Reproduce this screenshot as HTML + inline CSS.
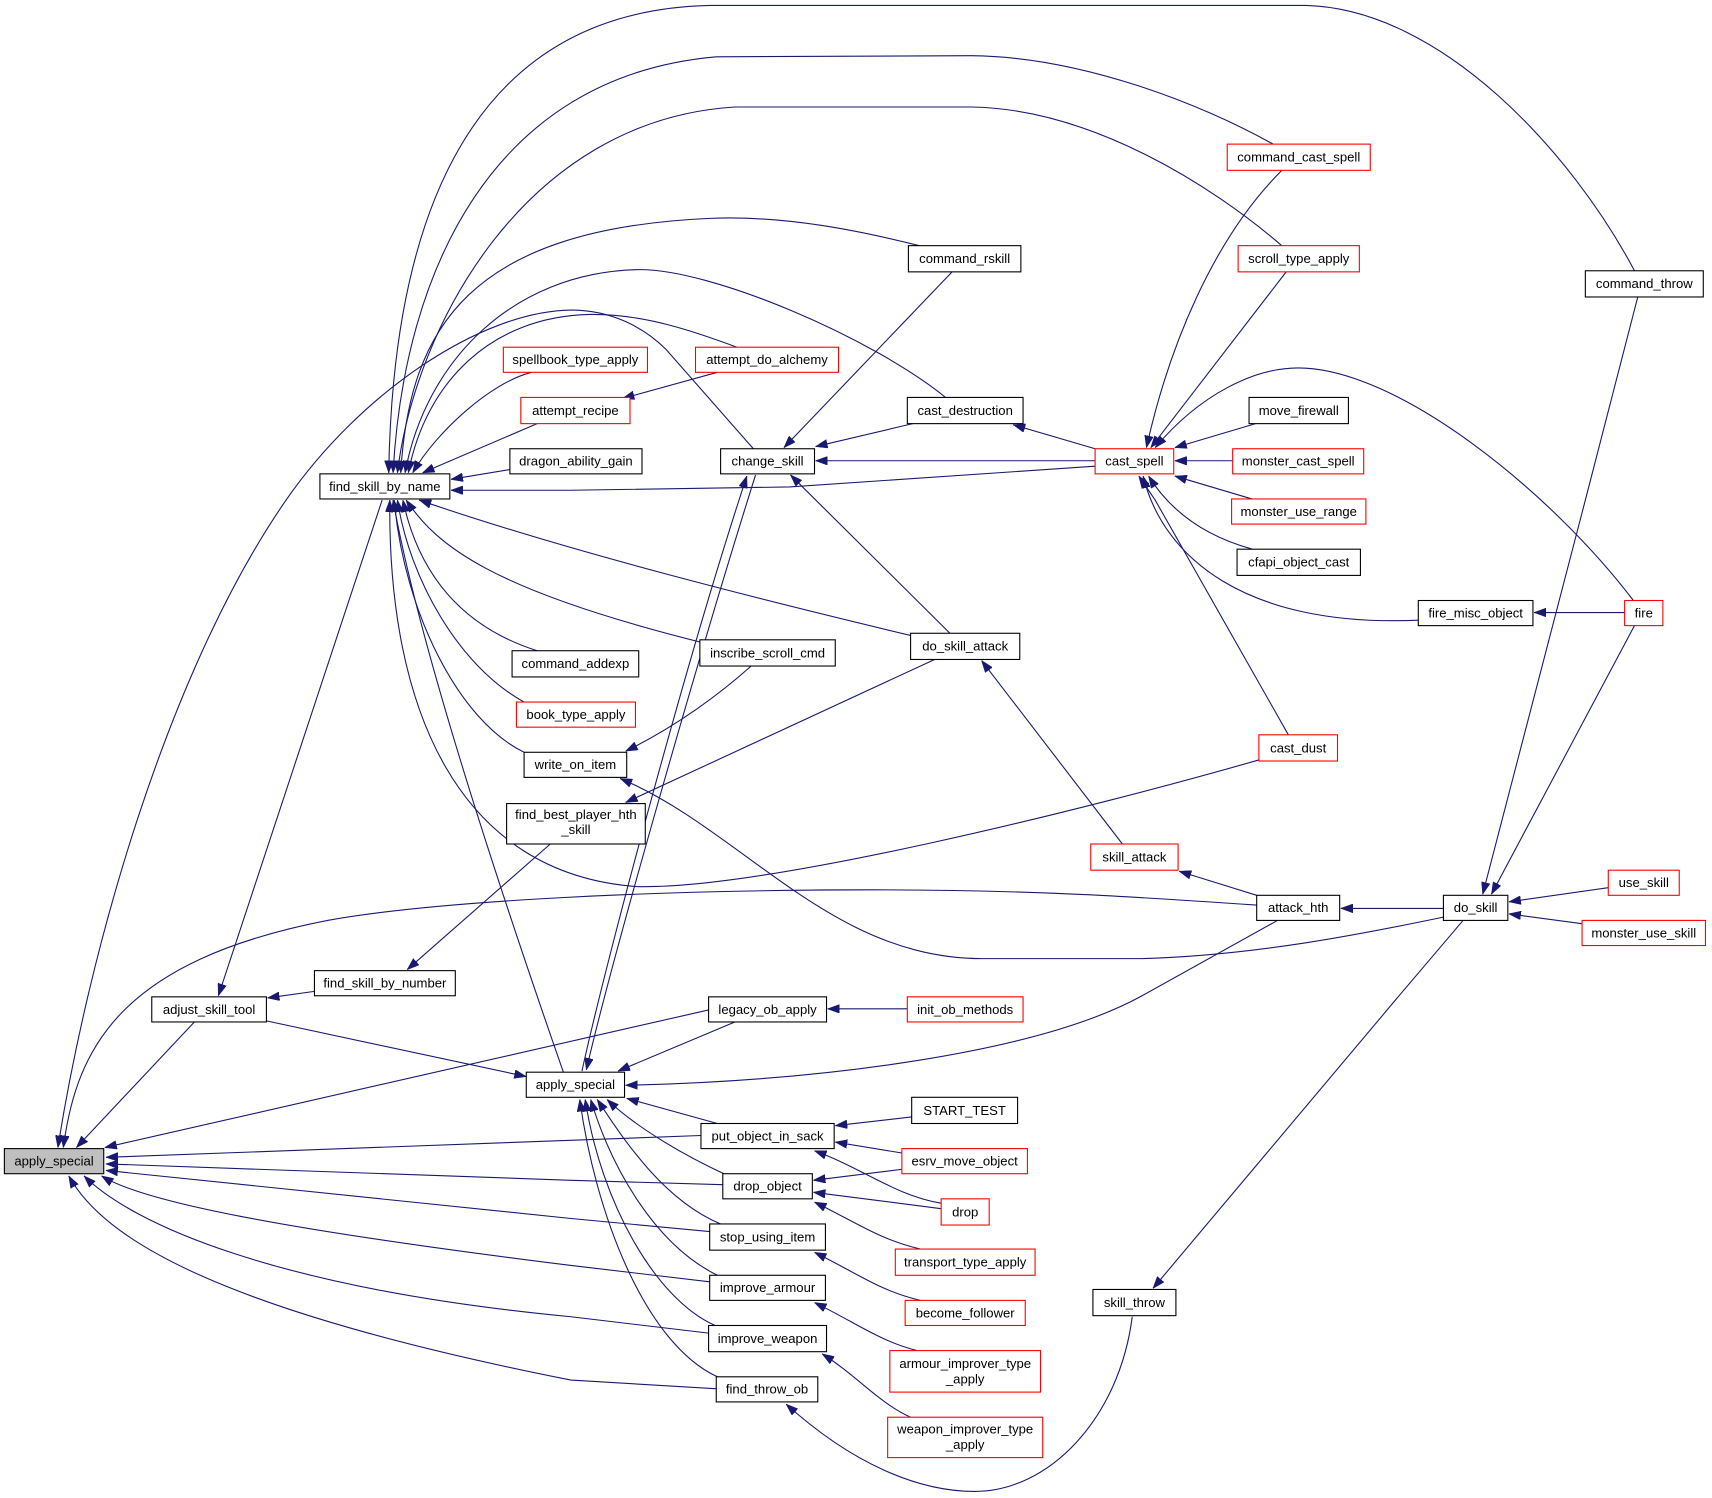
<!DOCTYPE html>
<html>
<head>
<meta charset="utf-8">
<style>
html,body{margin:0;padding:0;background:#fff;}
svg{display:block;}
text{font-family:"Liberation Sans",Arial,sans-serif;font-size:12px;fill:#000;text-anchor:middle;}
.n{fill:#fff;stroke:#000;stroke-width:1;}
.r{fill:#fff;stroke:#ff0000;stroke-width:1;}
.g{fill:#bfbfbf;stroke:#000;stroke-width:1;}
path{fill:none;stroke:#191970;stroke-width:1;marker-start:url(#ah);}
</style>
</head>
<body>
<svg width="1712" height="1498" viewBox="0 0 1568 1372" xmlns="http://www.w3.org/2000/svg">
<defs>
<marker id="ah" viewBox="0 0 11 8" refX="11" refY="4" markerWidth="11" markerHeight="8" markerUnits="userSpaceOnUse" orient="auto-start-reverse">
<polygon points="0,0 11,4 0,8" style="fill:#191970;stroke:#191970;stroke-width:0.5"/>
</marker>
</defs>

<!-- edges into apply_special (left) -->
<path d="M53,1051 C80,880 150,620 262,458 C330,360 440,285 523,284 C560,284 590,300 610,320 L690,411"/>
<path d="M58,1051 C70,960 110,880 300,843 C400,825 600,815 800,815 C950,815 1050,822 1151,829"/>
<path d="M70,1051 L178,936"/>
<path d="M96,1051 L649,925"/>
<path d="M97,1060 L642,1040"/>
<path d="M97,1066 L523,1081 L662,1085"/>
<path d="M97,1072 L523,1116 L650,1128"/>
<path d="M93,1077 C130,1100 250,1125 523,1159 L650,1174"/>
<path d="M77,1077 C120,1120 250,1180 523,1206 L649,1221"/>
<path d="M63,1077 C95,1135 200,1200 523,1264 L657,1272"/>

<!-- edges into apply_special (middle) -->
<path d="M482,986 L244,935"/>
<path d="M566,981 L673,936"/>
<path d="M573,994 C750,990 950,965 1046,912 L1170,843"/>
<path d="M574,1006 L657,1029"/>
<path d="M556,1007 C580,1030 620,1055 663,1075"/>
<path d="M547,1007 C575,1050 610,1100 660,1121"/>
<path d="M541,1007 C560,1070 600,1140 657,1168"/>
<path d="M536,1007 C550,1100 600,1190 655,1214"/>
<path d="M531,1007 C545,1110 590,1230 657,1261"/>
<path d="M537,980 C560,880 640,600 692,435"/>
<path d="M684,436 C630,600 555,880 533,981"/>

<!-- edges into find_skill_by_name top -->
<path d="M356,433 C360,200 430,10 650,5 L1196,5 C1320,8 1440,140 1497,248"/>
<path d="M360,433 C370,250 450,70 656,52 L890,51 C990,52 1100,95 1166,132"/>
<path d="M364,433 C380,300 480,110 673,98 L890,98 C1000,100 1110,170 1174,225"/>
<path d="M367,433 C375,300 430,210 650,200 C720,197 790,212 842,225"/>
<path d="M371,433 C390,330 470,250 583,247 C650,245 800,310 866,364"/>
<path d="M374,433 C390,350 450,290 540,288 C590,287 640,305 675,318"/>
<path d="M378,433 C400,395 450,350 487,341"/>
<path d="M387,433 L492,388"/>
<path d="M413,439 L467,430"/>
<path d="M413,449 L523,449 L723,446 L1003,427"/>

<!-- edges into find_skill_by_name bottom -->
<path d="M360,458 C385,600 470,850 516,982"/>
<path d="M384,458 C520,505 700,550 834,582"/>
<path d="M372,458 C400,500 450,540 641,588"/>
<path d="M369,458 C380,510 410,570 492,596"/>
<path d="M364,458 C375,530 420,610 480,643"/>
<path d="M361,458 C370,560 420,660 480,689"/>
<path d="M357,458 C355,650 420,800 583,812 C700,815 1000,740 1153,696"/>

<!-- misc edges -->
<path d="M200,912 L350,458"/>
<path d="M245,914 L288,908"/>
<path d="M373,888 L504,773"/>
<path d="M573,735 L856,604"/>
<path d="M573,688 C620,665 660,635 688,610"/>
<path d="M568,713 C680,760 760,878 900,878 L1046,878 C1150,875 1250,855 1322,840"/>
<path d="M718,410 L872,249"/>
<path d="M747,409 L836,388"/>
<path d="M747,422 L1003,422"/>
<path d="M724,435 L870,580"/>
<path d="M928,389 L1003,411"/>
<path d="M570,365 L657,341"/>
<path d="M899,605 L1028,773"/>
<path d="M1080,798 L1151,820"/>
<path d="M1228,832 L1322,832"/>
<path d="M1382,826 L1473,813"/>
<path d="M1382,837 L1449,846"/>
<path d="M1358,819 L1452,458 L1500,272"/>
<path d="M1366,819 L1497,573"/>
<path d="M1056,1180 L1278,916 L1340,843"/>
<path d="M720,1286 C780,1340 840,1366 893,1366 C960,1366 1025,1300 1037,1206"/>
<path d="M758,924 L831,924"/>
<path d="M765,1031 L835,1023"/>
<path d="M765,1046 L826,1056"/>
<path d="M745,1081 L826,1071"/>
<path d="M746,1054 C790,1070 820,1095 862,1102"/>
<path d="M745,1092 L862,1107"/>
<path d="M746,1101 C785,1120 805,1135 843,1144"/>
<path d="M746,1147 C785,1166 805,1182 843,1191"/>
<path d="M746,1193 C785,1212 805,1228 840,1237"/>
<path d="M753,1240 C785,1260 805,1285 834,1298"/>

<!-- edges into cast_spell -->
<path d="M1050,410 C1070,320 1110,220 1174,156"/>
<path d="M1054,410 L1178,249"/>
<path d="M1058,410 C1100,360 1150,337 1189,337 C1280,337 1420,450 1496,550"/>
<path d="M1076,410 L1150,388"/>
<path d="M1076,422 L1129,422"/>
<path d="M1076,436 L1150,458"/>
<path d="M1052,436 C1070,465 1100,490 1147,503"/>
<path d="M1047,436 C1065,510 1140,575 1299,568"/>
<path d="M1043,436 L1058,458 L1180,673"/>
<path d="M1405,561 L1488,561"/>

<!-- nodes -->
<rect class="g" x="4" y="1052" width="91" height="23"/><text x="49.5" y="1067.5">apply_special</text>
<rect class="n" x="139" y="913" width="105" height="23"/><text x="191.5" y="928.5">adjust_skill_tool</text>
<rect class="n" x="293" y="434" width="119" height="23"/><text x="352.5" y="449.5">find_skill_by_name</text>
<rect class="n" x="288" y="889" width="129" height="23"/><text x="352.5" y="904.5">find_skill_by_number</text>
<rect class="n" x="482" y="982" width="90" height="23"/><text x="527" y="997.5">apply_special</text>
<rect class="r" x="461" y="318" width="132" height="23"/><text x="527" y="333.5">spellbook_type_apply</text>
<rect class="r" x="477" y="364" width="100" height="24"/><text x="527" y="380">attempt_recipe</text>
<rect class="n" x="467" y="411" width="121" height="23"/><text x="527.5" y="426.5">dragon_ability_gain</text>
<rect class="n" x="469" y="596" width="116" height="24"/><text x="527" y="612">command_addexp</text>
<rect class="r" x="473" y="643" width="109" height="23"/><text x="527.5" y="658.5">book_type_apply</text>
<rect class="n" x="480" y="689" width="94" height="23"/><text x="527" y="704.5">write_on_item</text>
<rect class="n" x="464" y="736" width="127" height="37"/><text x="527.5" y="750">find_best_player_hth</text><text x="527.5" y="764">_skill</text>
<rect class="r" x="637" y="318" width="131" height="23"/><text x="702.5" y="333.5">attempt_do_alchemy</text>
<rect class="n" x="660" y="411" width="86" height="23"/><text x="703" y="426.5">change_skill</text>
<rect class="n" x="641" y="586" width="124" height="24"/><text x="703" y="602">inscribe_scroll_cmd</text>
<rect class="n" x="649" y="913" width="108" height="23"/><text x="703" y="928.5">legacy_ob_apply</text>
<rect class="n" x="642" y="1029" width="122" height="23"/><text x="703" y="1044.5">put_object_in_sack</text>
<rect class="n" x="662" y="1075" width="82" height="23"/><text x="703" y="1090.5">drop_object</text>
<rect class="n" x="650" y="1121" width="106" height="24"/><text x="703" y="1137">stop_using_item</text>
<rect class="n" x="650" y="1168" width="106" height="23"/><text x="703" y="1183.5">improve_armour</text>
<rect class="n" x="649" y="1214" width="108" height="24"/><text x="703" y="1230">improve_weapon</text>
<rect class="n" x="656" y="1261" width="93" height="23"/><text x="702.5" y="1276.5">find_throw_ob</text>
<rect class="n" x="832" y="225" width="103" height="24"/><text x="883.5" y="241">command_rskill</text>
<rect class="n" x="831" y="364" width="106" height="24"/><text x="884" y="380">cast_destruction</text>
<rect class="n" x="834" y="580" width="100" height="24"/><text x="884" y="596">do_skill_attack</text>
<rect class="r" x="831" y="913" width="106" height="23"/><text x="884" y="928.5">init_ob_methods</text>
<rect class="n" x="835" y="1005" width="97" height="24"/><text x="883.5" y="1021">START_TEST</text>
<rect class="r" x="826" y="1052" width="115" height="23"/><text x="883.5" y="1067.5">esrv_move_object</text>
<rect class="r" x="862" y="1098" width="44" height="24"/><text x="884" y="1114">drop</text>
<rect class="r" x="820" y="1144" width="128" height="24"/><text x="884" y="1160">transport_type_apply</text>
<rect class="r" x="829" y="1191" width="110" height="23"/><text x="884" y="1206.5">become_follower</text>
<rect class="r" x="815" y="1237" width="138" height="38"/><text x="884" y="1253">armour_improver_type</text><text x="884" y="1267">_apply</text>
<rect class="r" x="813" y="1298" width="142" height="37"/><text x="884" y="1313">weapon_improver_type</text><text x="884" y="1327">_apply</text>
<rect class="r" x="999" y="773" width="80" height="24"/><text x="1039" y="789">skill_attack</text>
<rect class="n" x="1151" y="820" width="76" height="23"/><text x="1189" y="835.5">attack_hth</text>
<rect class="n" x="1001" y="1181" width="76" height="24"/><text x="1039" y="1197">skill_throw</text>
<rect class="r" x="1003" y="411" width="72" height="23"/><text x="1039" y="426.5">cast_spell</text>
<rect class="r" x="1124" y="132" width="131" height="24"/><text x="1189.5" y="148">command_cast_spell</text>
<rect class="r" x="1134" y="225" width="111" height="24"/><text x="1189.5" y="241">scroll_type_apply</text>
<rect class="n" x="1144" y="364" width="91" height="24"/><text x="1189.5" y="380">move_firewall</text>
<rect class="r" x="1129" y="411" width="120" height="23"/><text x="1189" y="426.5">monster_cast_spell</text>
<rect class="r" x="1128" y="457" width="123" height="23"/><text x="1189.5" y="472.5">monster_use_range</text>
<rect class="n" x="1133" y="503" width="113" height="24"/><text x="1189.5" y="519">cfapi_object_cast</text>
<rect class="r" x="1153" y="673" width="72" height="24"/><text x="1189" y="689">cast_dust</text>
<rect class="n" x="1299" y="550" width="105" height="23"/><text x="1351.5" y="565.5">fire_misc_object</text>
<rect class="n" x="1322" y="820" width="59" height="23"/><text x="1351.5" y="835.5">do_skill</text>
<rect class="n" x="1452" y="248" width="108" height="24"/><text x="1506" y="264">command_throw</text>
<rect class="r" x="1488" y="550" width="35" height="23"/><text x="1505.5" y="565.5">fire</text>
<rect class="r" x="1473" y="797" width="65" height="23"/><text x="1505.5" y="812.5">use_skill</text>
<rect class="r" x="1449" y="843" width="113" height="23"/><text x="1505.5" y="858.5">monster_use_skill</text>
</svg>
</body>
</html>
